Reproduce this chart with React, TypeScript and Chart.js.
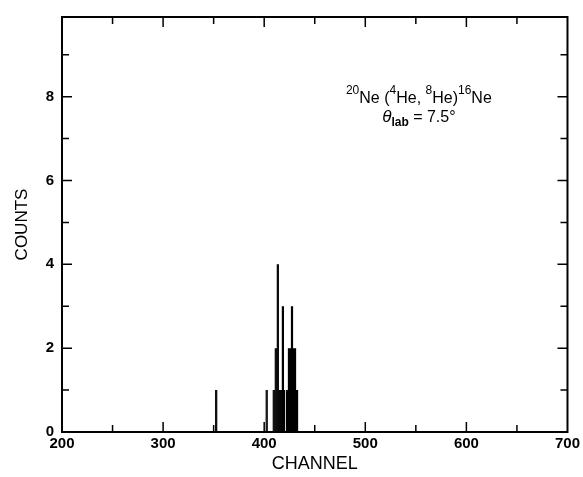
import React, { useEffect, useRef } from "react";
import { Chart, registerables } from "chart.js";

Chart.register(...registerables);

// Histogram data: channel -> counts
const channels = [352, 353, 402, 403, 409, 410, 411, 412, 413, 414, 415, 416, 417, 418, 419, 420, 422, 423, 424, 425, 426, 427, 428, 429, 430, 431, 432, 433];
const counts = [1, 1, 1, 1, 1, 1, 2, 2, 4, 4, 1, 1, 1, 3, 3, 1, 1, 1, 2, 2, 2, 3, 3, 2, 2, 2, 1, 1];

const xMajorTicks = [200, 300, 400, 500, 600, 700];
const xMinorTicks = [250, 350, 450, 550, 650];
const yMajorTicks = [0, 2, 4, 6, 8];
const yMinorTicks = [1, 3, 5, 7, 9];

const FONT = "'Liberation Sans', Arial, Helvetica, sans-serif";

const framePlugin = {
  id: "frameTicks",
  afterDatasetsDraw(chart: any) {
    const { ctx, chartArea } = chart;
    const { left, right, top, bottom } = chartArea;
    const xs = chart.scales.x;
    const ys = chart.scales.y;
    ctx.save();
    ctx.strokeStyle = "#000";
    ctx.lineWidth = 2;
    ctx.strokeRect(left, top, right - left, bottom - top);
    ctx.lineWidth = 1.5;
    ctx.beginPath();
    const xt = (vals: number[], len: number) => {
      for (const v of vals) {
        const px = xs.getPixelForValue(v);
        if (px <= left + 1 || px >= right - 1) continue;
        ctx.moveTo(px, bottom);
        ctx.lineTo(px, bottom - len);
        ctx.moveTo(px, top);
        ctx.lineTo(px, top + len);
      }
    };
    const yt = (vals: number[], len: number) => {
      for (const v of vals) {
        const py = ys.getPixelForValue(v);
        if (py >= bottom - 1 || py <= top + 1) continue;
        ctx.moveTo(left, py);
        ctx.lineTo(left + len, py);
        ctx.moveTo(right, py);
        ctx.lineTo(right - len, py);
      }
    };
    xt(xMajorTicks, 10);
    xt(xMinorTicks, 7);
    yt(yMajorTicks, 10);
    yt(yMinorTicks, 7);
    ctx.stroke();
    ctx.restore();
  },
  afterDraw(chart: any) {
    const { ctx, chartArea } = chart;
    const { left, right, top, bottom } = chartArea;
    const w = right - left;
    const h = bottom - top;
    const cx = left + w * 0.706;
    const big = `16px ${FONT}`;
    const small = `12px ${FONT}`;
    ctx.save();
    ctx.fillStyle = "#000";
    ctx.textBaseline = "alphabetic";
    ctx.textAlign = "left";

    // Line 1: 20Ne(4He,8He)16Ne
    const line1: [string, string, number][] = [
      ["20", small, -9],
      ["Ne (", big, 0],
      ["4", small, -9],
      ["He, ", big, 0],
      ["8", small, -9],
      ["He)", big, 0],
      ["16", small, -9],
      ["Ne", big, 0],
    ];
    const y1 = top + h * 0.208;
    let total = 0;
    for (const [t, f] of line1) {
      ctx.font = f;
      total += ctx.measureText(t).width;
    }
    let x = cx - total / 2;
    for (const [t, f, dy] of line1) {
      ctx.font = f;
      ctx.fillText(t, x, y1 + dy);
      x += ctx.measureText(t).width;
    }

    // Line 2: theta_lab = 7.5°
    const line2: [string, string, number][] = [
      ["θ", `italic 17px ${FONT}`, 0],
      ["lab", `bold 12px ${FONT}`, 4],
      [" = 7.5°", big, 0],
    ];
    const y2 = top + h * 0.253;
    total = 0;
    for (const [t, f] of line2) {
      ctx.font = f;
      total += ctx.measureText(t).width;
    }
    x = cx - total / 2;
    for (const [t, f, dy] of line2) {
      ctx.font = f;
      ctx.fillText(t, x, y2 + dy);
      x += ctx.measureText(t).width;
    }
    ctx.restore();
  },
};

export default function App() {
  const ref = useRef<HTMLCanvasElement | null>(null);
  useEffect(() => {
    if (!ref.current) return;
    const chart = new Chart(ref.current, {
      type: "bar",
      data: {
        datasets: [
          {
            data: channels.map((c, i) => ({ x: c, y: counts[i] })),
            backgroundColor: "#000",
            borderWidth: 0,
            barPercentage: 1.2,
            categoryPercentage: 1,
          },
        ],
      },
      options: {
        responsive: false,
        animation: false,
        events: [],
        layout: { padding: { left: 0, right: 14, top: 13, bottom: 0 } },
        plugins: { legend: { display: false }, tooltip: { enabled: false } },
        scales: {
          x: {
            type: "linear",
            min: 200,
            max: 700,
            offset: false,
            grid: { display: false, offset: false, drawTicks: false },
            border: { display: false },
            afterFit: (s: any) => {
              s.height = 45;
            },
            afterBuildTicks: (s: any) => {
              s.ticks = xMajorTicks.map((v) => ({ value: v }));
            },
            ticks: {
              padding: 3,
              color: "#000",
              maxRotation: 0,
              autoSkip: false,
              font: { family: FONT, size: 15, weight: "bold" },
            },
            title: {
              display: true,
              text: "CHANNEL",
              color: "#000",
              padding: { top: 0, bottom: 2 },
              font: { family: FONT, size: 18 },
            },
          },
          y: {
            type: "linear",
            min: 0,
            max: 9.9,
            grid: { display: false, drawTicks: false },
            border: { display: false },
            afterFit: (s: any) => {
              s.width = 62;
            },
            afterBuildTicks: (s: any) => {
              s.ticks = yMajorTicks.map((v) => ({ value: v }));
            },
            ticks: {
              padding: 8,
              color: "#000",
              autoSkip: false,
              font: { family: FONT, size: 15, weight: "bold" },
            },
            title: {
              display: true,
              text: "COUNTS",
              color: "#000",
              padding: { top: 12, bottom: 0 },
              font: { family: FONT, size: 17 },
            },
          },
        },
      },
      plugins: [framePlugin],
    });
    return () => chart.destroy();
  }, []);
  return (
    <div style={{ position: "absolute", left: 0, top: 0, width: 583, height: 477, background: "#fff" }}>
      <canvas ref={ref} width={583} height={477} style={{ display: "block" }} />
    </div>
  );
}
